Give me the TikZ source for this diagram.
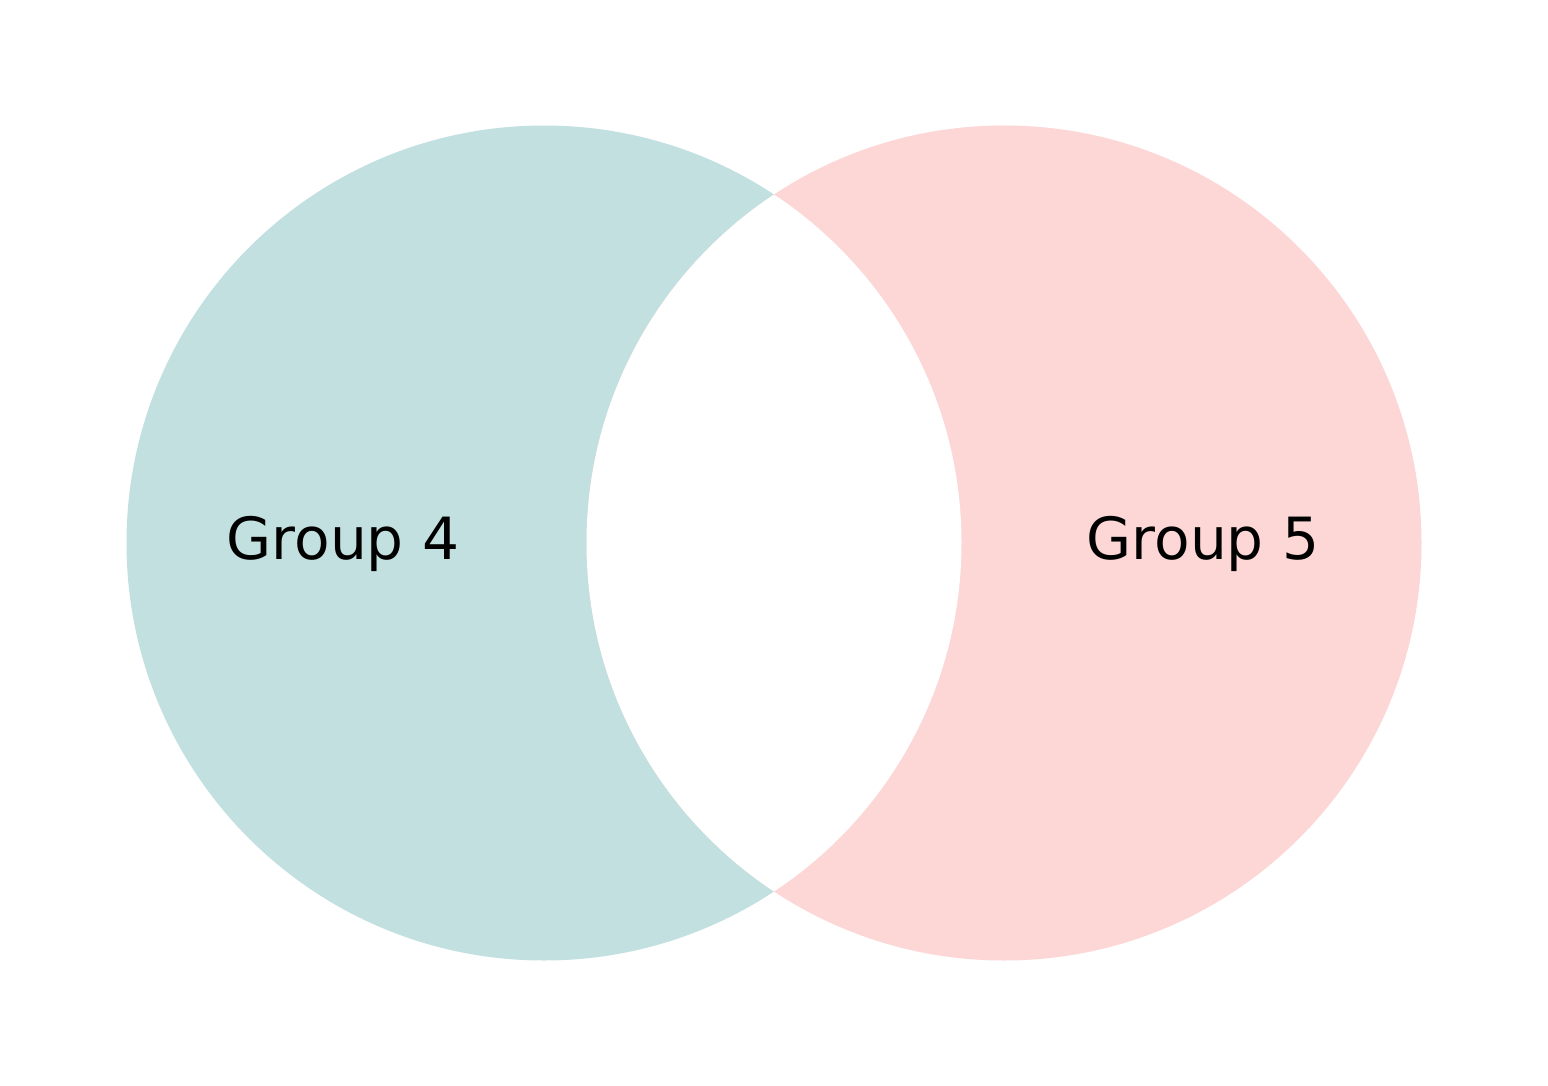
\documentclass[tikz,border=0pt]{standalone}
\usepackage{fontspec}
\setmainfont{DejaVu Sans}
\definecolor{leftc}{RGB}{194,224,224}
\definecolor{rightc}{RGB}{253,214,214}
\begin{document}
\begin{tikzpicture}[x=1pt,y=-1pt,
  lbl/.style={font=\fontsize{58.2}{60}\selectfont, text=black, inner sep=0pt}]
\useasboundingbox (0,0) rectangle (1548,1086);
\fill[white] (0,0) rectangle (1548,1086);
\coordinate (cl) at (544,543);
\coordinate (cr) at (1004,543);
\fill[leftc] (cl) circle[radius=417.5];
\fill[rightc] (cr) circle[radius=417.5];
% intersection white
\begin{scope}
  \clip (cl) circle[radius=417.5];
  \fill[white] (cr) circle[radius=417.5];
\end{scope}
\node[lbl] (g4) at (343,544) {Group 4};
\node[lbl] (g5) at (1203,544) {Group 5};
\end{tikzpicture}
\end{document}
